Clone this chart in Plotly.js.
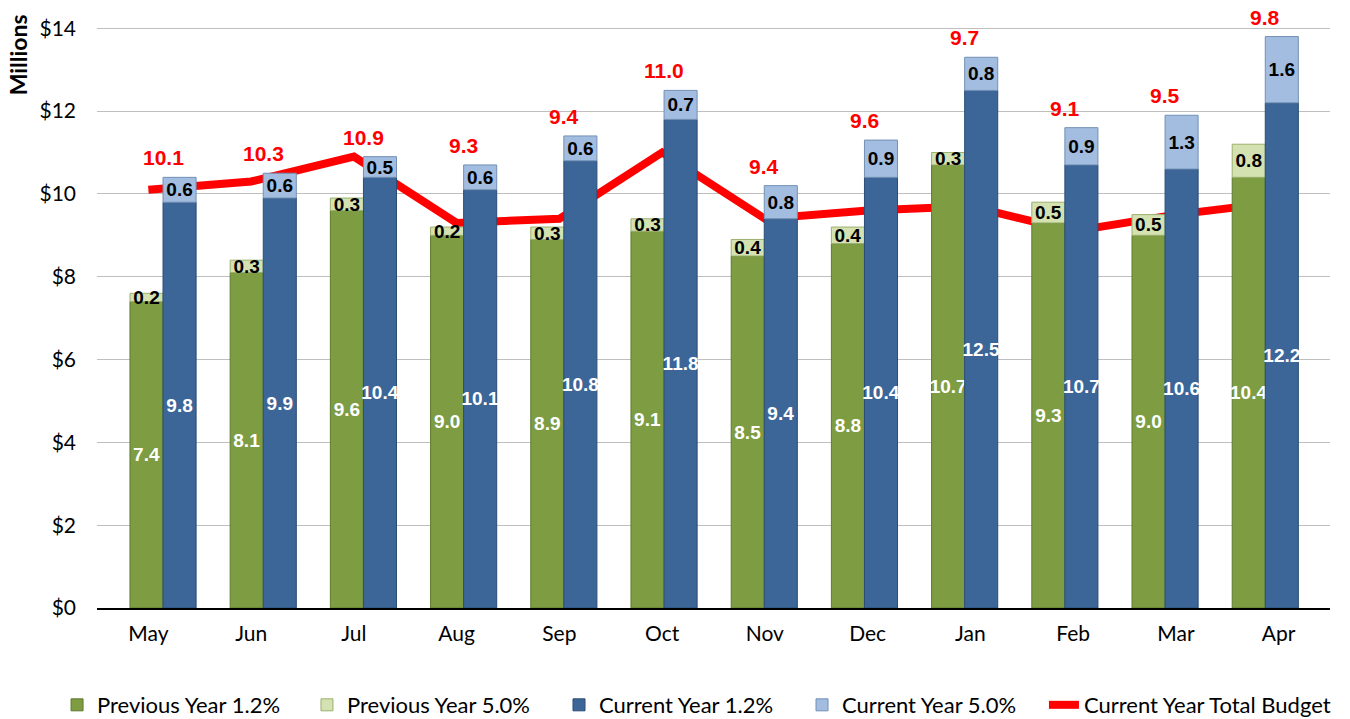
<!DOCTYPE html>
<html>
<head>
<meta charset="utf-8">
<script src="https://cdn.plot.ly/plotly-3.0.1.min.js"></script>
<style>html,body{margin:0;padding:0;background:#fff;}#chart{width:1350px;height:719px;}</style>
</head>
<body>
<div id="chart"></div>
<script>
// ---- data ----
var months = ["May","Jun","Jul","Aug","Sep","Oct","Nov","Dec","Jan","Feb","Mar","Apr"];
var prevYear12 = [7.4, 8.1, 9.6, 9.0, 8.9, 9.1, 8.5, 8.8, 10.7, 9.3, 9.0, 10.4];
var prevYear50 = [0.2, 0.3, 0.3, 0.2, 0.3, 0.3, 0.4, 0.4, 0.3, 0.5, 0.5, 0.8];
var curYear12  = [9.8, 9.9, 10.4, 10.1, 10.8, 11.8, 9.4, 10.4, 12.5, 10.7, 10.6, 12.2];
var curYear50  = [0.6, 0.6, 0.5, 0.6, 0.6, 0.7, 0.8, 0.9, 0.8, 0.9, 1.3, 1.6];
var totalBudget = [10.1, 10.3, 10.9, 9.3, 9.4, 11.0, 9.4, 9.6, 9.7, 9.1, 9.5, 9.8];
var yTickVals = [0, 2, 4, 6, 8, 10, 12, 14];
var yTickText = yTickVals.map(function(v){ return "$" + v; });

// ---- styling ----
var idx = months.map(function(m, i){ return i; });
var fmt = function(v){ return v.toFixed(1); };
var barFont = "Liberation Sans Narrow, Arial Narrow, Liberation Sans, Arial, sans-serif";
var bodyFont = "Lato, Carlito, Calibri, sans-serif";
var BW = 0.33;

function barTrace(name, legendId, y, base, offset, color, lineColor, textColor) {
  return {
    type: "bar", name: name, legend: legendId, xaxis: "x2", yaxis: "y",
    x: idx, y: y, base: base, offset: offset, width: BW,
    marker: {color: color, line: {color: lineColor, width: 1}},
    text: y.map(fmt), textposition: "inside", insidetextanchor: "middle",
    textangle: 0, constraintext: "none", cliponaxis: false,
    textfont: {family: barFont, size: 19, color: textColor, weight: "bold"},
    hoverinfo: "skip"
  };
}

var zeros = idx.map(function(){ return 0; });
var curTop = curYear12.map(function(v, i){ return v + curYear50[i]; });

var traces = [
  barTrace("Previous Year 1.2%", "legend", prevYear12, zeros, -BW, "#7E9C42", "#5E7A2C", "#FFFFFF"),
  barTrace("Previous Year 5.0%", "legend2", prevYear50, prevYear12, -BW, "#D3E2B0", "#9DB070", "#000000"),
  barTrace("Current Year 1.2%", "legend3", curYear12, zeros, 0, "#3C6698", "#2A4C75", "#FFFFFF"),
  barTrace("Current Year 5.0%", "legend4", curYear50, curYear12, 0, "#A2BDE0", "#7290B5", "#000000"),
  {
    type: "scatter", mode: "lines", name: "Current Year Total Budget", legend: "legend5",
    x: months, y: totalBudget, xaxis: "x", yaxis: "y",
    line: {color: "#FF0000", width: 8},
    hoverinfo: "skip"
  }
];

var annotations = totalBudget.map(function(v, i){
  return {
    xref: "x2", yref: "y", x: idx[i], y: curTop[i],
    text: "<b>" + fmt(v) + "</b>", showarrow: false,
    yanchor: "bottom", yshift: 6,
    font: {family: barFont, size: 21, color: "#FF0000"}
  };
});
annotations.push({
  xref: "paper", yref: "paper", x: -0.064, y: 0.94,
  text: "<b>Millions</b>", textangle: -90, showarrow: false,
  xanchor: "center", yanchor: "middle",
  font: {family: bodyFont, size: 23, color: "#000"}
});

function legendAt(xp) {
  return {
    orientation: "h", x: xp, xanchor: "left", y: -0.165, yanchor: "middle",
    bgcolor: "rgba(0,0,0,0)",
    font: {family: bodyFont, size: 22, color: "#000"}
  };
}

var layout = {
  width: 1350, height: 719,
  margin: {l: 97, r: 20, t: 20, b: 111, autoexpand: false},
  paper_bgcolor: "#FFFFFF", plot_bgcolor: "#FFFFFF",
  barmode: "overlay",
  showlegend: true,
  legend: legendAt(-0.0324),
  legend2: legendAt(0.1703),
  legend3: legendAt(0.3747),
  legend4: legendAt(0.5718),
  legend5: legendAt(0.7680),
  xaxis: {
    type: "category", categoryarray: months, categoryorder: "array",
    range: [-0.5, 11.5],
    showgrid: false, showline: true, linecolor: "#000", linewidth: 1.5,
    ticks: "", tickfont: {family: bodyFont, size: 21, color: "#000"},
    ticklabelstandoff: 6,
    zeroline: false
  },
  xaxis2: {
    overlaying: "x", range: [-0.659, 11.646], visible: false,
    showgrid: false, zeroline: false
  },
  yaxis: {
    range: [0, 14.2], tickmode: "array", tickvals: yTickVals, ticktext: yTickText,
    showgrid: true, gridcolor: "#BFBFBF", gridwidth: 1,
    zeroline: false, showline: false, ticks: "",
    tickfont: {family: bodyFont, size: 21, color: "#000"},
    ticklabelstandoff: 20
  },
  annotations: annotations
};

Plotly.newPlot("chart", traces, layout, {displayModeBar: false, staticPlot: true});
</script>
</body>
</html>
